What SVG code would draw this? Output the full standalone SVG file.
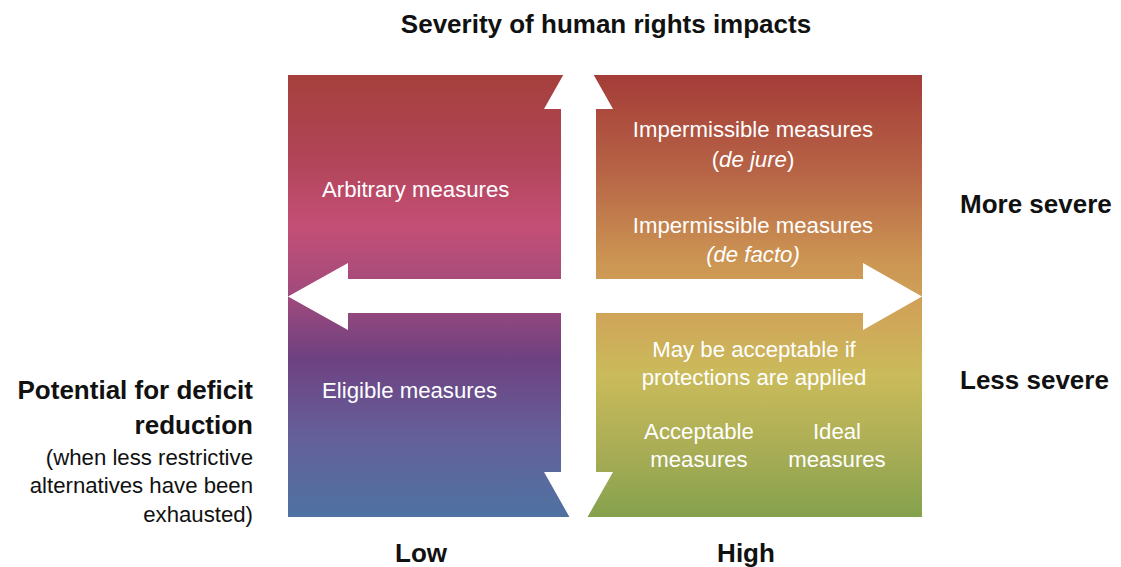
<svg xmlns="http://www.w3.org/2000/svg" width="1121" height="567" viewBox="0 0 1121 567">
<defs>
<linearGradient id="gL" x1="0" y1="75" x2="0" y2="517" gradientUnits="userSpaceOnUse">
<stop offset="0" stop-color="#a5403c"/>
<stop offset="0.2" stop-color="#b2455a"/>
<stop offset="0.34" stop-color="#c44f76"/>
<stop offset="0.5" stop-color="#a04a7c"/>
<stop offset="0.64" stop-color="#6e4181"/>
<stop offset="0.82" stop-color="#64609a"/>
<stop offset="1" stop-color="#4f72a2"/>
</linearGradient>
<linearGradient id="gR" x1="0" y1="75" x2="0" y2="517" gradientUnits="userSpaceOnUse">
<stop offset="0" stop-color="#a43c38"/>
<stop offset="0.22" stop-color="#b76446"/>
<stop offset="0.42" stop-color="#cc9553"/>
<stop offset="0.55" stop-color="#d0a659"/>
<stop offset="0.68" stop-color="#cabb5b"/>
<stop offset="0.85" stop-color="#a9ad55"/>
<stop offset="1" stop-color="#85a14d"/>
</linearGradient>
<clipPath id="clip"><rect x="288" y="75" width="634" height="442"/></clipPath>
<style>
.b{font-family:"Liberation Sans",Arial,sans-serif;font-weight:bold;font-size:26px;fill:#111}
.r{font-family:"Liberation Sans",Arial,sans-serif;font-size:22.2px;fill:#111}
.w{font-family:"Liberation Sans",Arial,sans-serif;font-size:22.2px;fill:#fff}
.i{font-style:italic}
</style>
</defs>
<g id="quadrants">
<rect id="left-panel" x="288" y="75" width="291" height="442" fill="url(#gL)"/>
<rect id="right-panel" x="578" y="75" width="344" height="442" fill="url(#gR)"/>
</g>
<g id="connectors" clip-path="url(#clip)" fill="#fff">
<polygon id="vertical-arrow" points="578.5,48 613,109 596,109 596,472 613,472 578.5,533 544,472 561,472 561,109 544,109"/>
<polygon id="horizontal-arrow" points="288,296.5 348,263 348,279 863,279 863,263 922,296.5 863,330 863,313 348,313 348,330"/>
</g>
<g id="title"><text class="b" x="606" y="33" text-anchor="middle">Severity of human rights impacts</text></g>
<g id="more-severe"><text class="b" x="960" y="213">More severe</text></g>
<g id="less-severe"><text class="b" x="960" y="389">Less severe</text></g>
<g id="low"><text class="b" x="421" y="562" text-anchor="middle">Low</text></g>
<g id="high"><text class="b" x="746" y="562" text-anchor="middle">High</text></g>
<g id="y-axis-label" text-anchor="end">
<text class="b" x="253" y="399">Potential for deficit</text>
<text class="b" x="253" y="434">reduction</text>
<text class="r" x="253" y="465">(when less restrictive</text>
<text class="r" x="253" y="493">alternatives have been</text>
<text class="r" x="253" y="522">exhausted)</text>
</g>
<g id="arbitrary"><text class="w" x="322" y="197">Arbitrary measures</text></g>
<g id="eligible"><text class="w" x="322" y="398">Eligible measures</text></g>
<g id="impermissible-de-jure" text-anchor="middle">
<text class="w" x="753" y="137">Impermissible measures</text>
<text class="w" x="753" y="167">(<tspan class="i">de jure</tspan>)</text>
</g>
<g id="impermissible-de-facto" text-anchor="middle">
<text class="w" x="753" y="233">Impermissible measures</text>
<text class="w i" x="753" y="262">(de facto)</text>
</g>
<g id="may-be-acceptable" text-anchor="middle">
<text class="w" x="754" y="357">May be acceptable if</text>
<text class="w" x="754" y="385">protections are applied</text>
</g>
<g id="acceptable" text-anchor="middle">
<text class="w" x="699" y="439">Acceptable</text>
<text class="w" x="699" y="467">measures</text>
</g>
<g id="ideal" text-anchor="middle">
<text class="w" x="837" y="439">Ideal</text>
<text class="w" x="837" y="467">measures</text>
</g>
</svg>
